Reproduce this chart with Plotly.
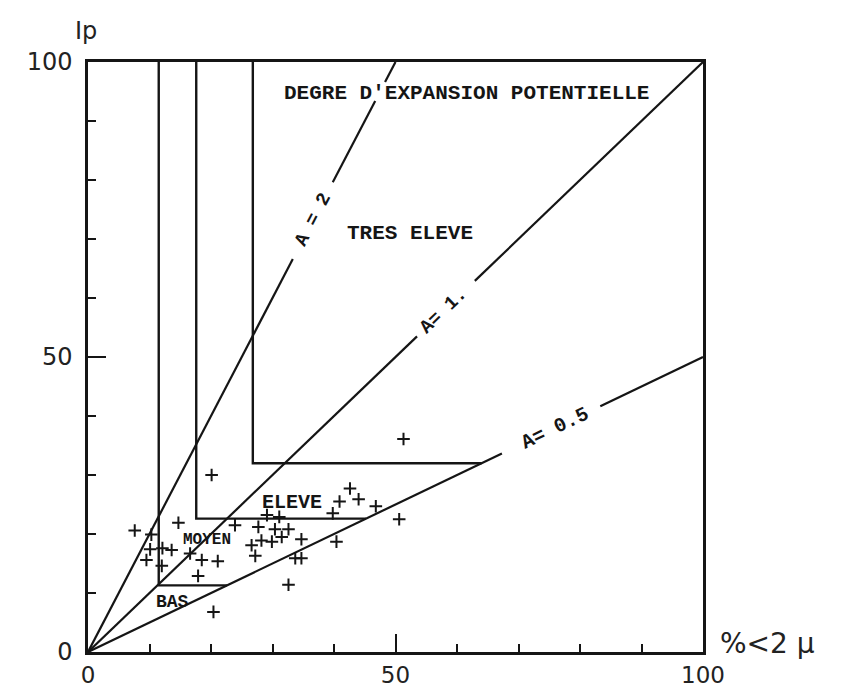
import numpy as np
import plotly.graph_objects as go

# ---------------- data ----------------
# activity lines  Ip = A * (%<2µ)
activity_values = [0.5, 1.0, 2.0]
activity_labels = ["A= 0.5", "A= 1.", "A = 2"]
# x-intervals where each activity line is interrupted (around its label / text)
activity_gaps = {
    0.5: [(67.3, 83.3)],
    1.0: [(53.5, 62.9)],
    2.0: [(33.3, 39.8), (46.7, 48.3)],
}
activity_label_x = [75.9, 57.8, 36.6]

# zone boundaries (vertical clay-fraction limit, horizontal Ip limit)
zone_names = ["BAS", "MOYEN", "ELEVE", "TRES ELEVE"]
zone_x_limits = [11.5, 17.6, 26.8]
zone_y_limits = [11.3, 22.6, 32.0]
zone_label_x = [13.7, 19.3, 33.2, 52.4]
zone_label_y = [8.5, 19.0, 25.4, 71.0]
zone_label_size = [18, 16, 20, 21]

# samples: % < 2 µ  and  Ip
clay_pct = [7.6, 14.7, 10.1, 12.1, 13.6, 9.5, 12.0, 17.9, 18.5, 21.1, 16.6, 20.4,
            42.6, 40.9, 44.0, 46.8, 39.8, 50.6, 27.7, 30.4, 32.6, 31.5, 28.2, 29.9,
            34.7, 26.6, 40.4, 27.2, 33.7, 34.7, 32.6, 51.3, 20.1, 29.1, 31.1, 23.9, 10.3]
ip_values = [20.6, 21.9, 17.4, 17.6, 17.3, 15.6, 14.6, 12.9, 15.6, 15.4, 16.7, 6.8,
             27.7, 25.5, 25.9, 24.7, 23.5, 22.5, 21.2, 20.8, 20.8, 19.5, 18.9, 18.7,
             19.1, 18.1, 18.7, 16.3, 15.9, 15.9, 11.4, 36.1, 30.0, 23.2, 22.9, 21.5, 19.9]

x_ticks = [0, 50, 100]
y_ticks = [0, 50, 100]

LINE = "#151515"
fig = go.Figure()

def add_line(xs, ys, width=2.2):
    fig.add_trace(go.Scatter(x=xs, y=ys, mode="lines",
                             line=dict(color=LINE, width=width),
                             hoverinfo="skip", showlegend=False))

# activity lines with gaps
for a in activity_values:
    x_end = min(100.0, 100.0 / a)
    breaks = [0.0]
    for g0, g1 in activity_gaps[a]:
        breaks += [g0, g1]
    breaks.append(x_end)
    for i in range(0, len(breaks), 2):
        x0, x1 = breaks[i], breaks[i + 1]
        add_line([x0, x1], [a * x0, a * x1])

# zone boundary lines
a_low = activity_values[0]
for zx, zy in zip(zone_x_limits, zone_y_limits):
    add_line([zx, zx, zy / a_low], [100, zy, zy], width=2.4)

# sample points
fig.add_trace(go.Scatter(x=clay_pct, y=ip_values, mode="markers",
                         marker=dict(symbol="cross-thin", size=9,
                                     line=dict(color=LINE, width=2)),
                         showlegend=False))

# zone labels
mono = "Liberation Mono"
for name, lx, ly, fs in zip(zone_names, zone_label_x, zone_label_y, zone_label_size):
    fig.add_annotation(x=lx, y=ly, text="<b>" + name + "</b>", showarrow=False,
                       font=dict(family=mono, size=fs, color=LINE), xanchor="center", yanchor="middle")
fig.add_annotation(x=61.6, y=94.7, text="<b>DEGRE D'EXPANSION POTENTIELLE</b>", showarrow=False,
                   font=dict(family=mono, size=21, color=LINE))

# activity labels, rotated along their line (pixel aspect of the plot area)
px_per_x = 615 / 100.0
px_per_y = 590 / 100.0
act_sizes = [20, 19, 19]
for a, lab, lx, fs in zip(activity_values, activity_labels, activity_label_x, act_sizes):
    ang = np.degrees(np.arctan(a * px_per_y / px_per_x))
    fig.add_annotation(x=lx, y=a * lx, text="<b>" + lab + "</b>", showarrow=False, textangle=-ang,
                       font=dict(family=mono, size=fs, color=LINE))

# axis titles
fig.add_annotation(xref="paper", yref="paper", x=-0.003, y=1.025, text="Ip", showarrow=False,
                   xanchor="center", yanchor="bottom",
                   font=dict(family="DejaVu Sans", size=24, color="#222"))
fig.add_annotation(xref="paper", yref="paper", x=1.025, y=0.015, text="%<2 µ", showarrow=False,
                   xanchor="left", yanchor="middle",
                   font=dict(family="DejaVu Sans", size=28, color="#222"))

axis_common = dict(range=[0, 100], showgrid=False, zeroline=False, automargin=False,
                   showline=True, linecolor=LINE, linewidth=2.5, mirror=True,
                   ticks="inside", ticklen=18, tickwidth=2, tickcolor=LINE,
                   minor=dict(dtick=10, ticks="inside", ticklen=8, tickwidth=2, tickcolor=LINE))
fig.update_xaxes(tickvals=x_ticks, ticktext=[str(v) for v in x_ticks],
                 tickfont=dict(family="DejaVu Sans", size=23, color="#222"),
                 ticklabelstandoff=1, **axis_common)
fig.update_yaxes(tickvals=y_ticks, ticktext=[str(v) for v in y_ticks],
                 tickfont=dict(family="DejaVu Sans", size=24, color="#222"),
                 ticklabelstandoff=8, **axis_common)

fig.update_layout(width=841, height=693, plot_bgcolor="white", paper_bgcolor="white",
                  margin=dict(l=88, r=138, t=62, b=41, autoexpand=False), showlegend=False)

fig.write_html("out.html")
